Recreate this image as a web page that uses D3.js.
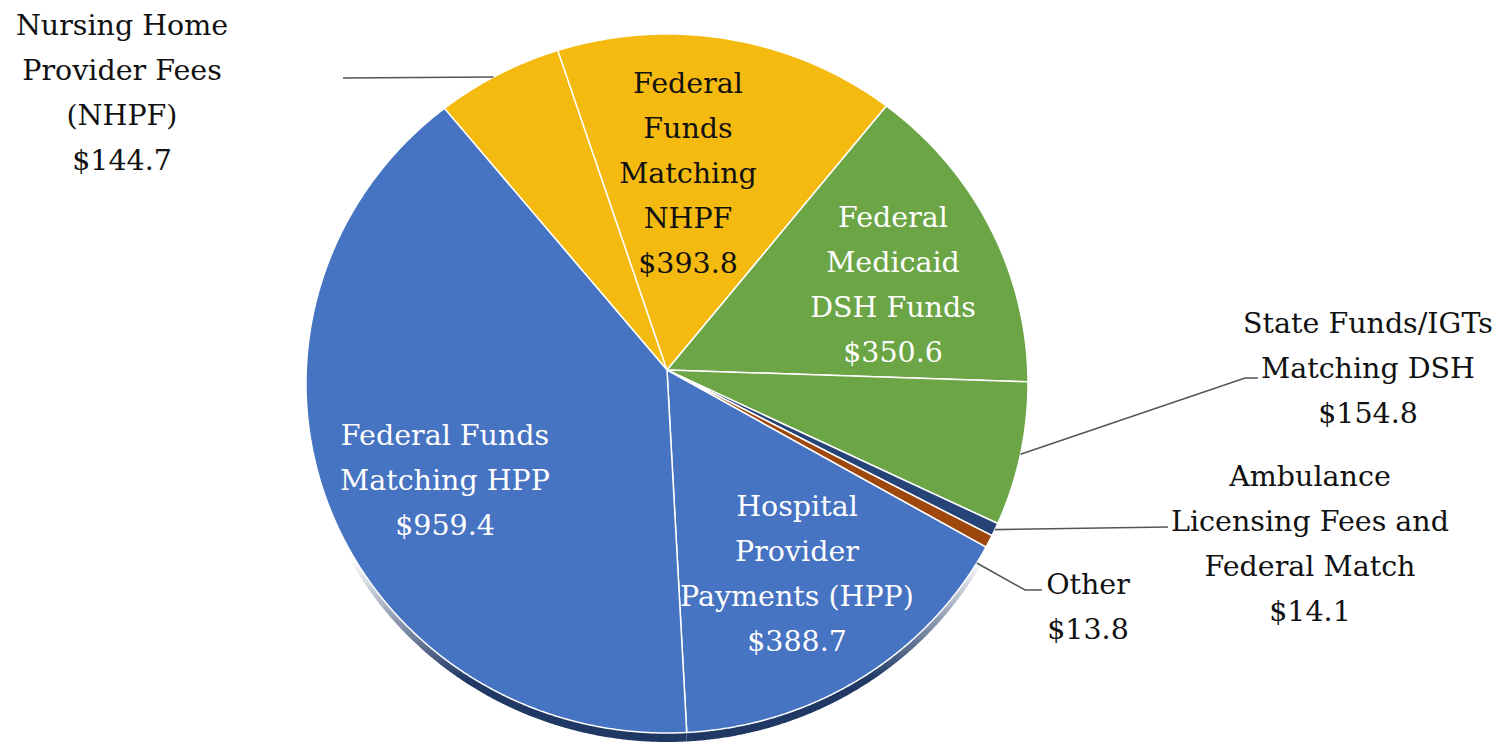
<!DOCTYPE html>
<html>
<head>
<meta charset="utf-8">
<script src="https://cdn.jsdelivr.net/npm/d3@7"></script>
<style>
  body { margin: 0; background: #fff; }
  text { font-family: "DejaVu Serif", serif; font-size: 28.5px; }
</style>
</head>
<body>
<div id="chart"></div>
<script>
var categories = [
  'Nursing Home Provider Fees (NHPF)',
  'Federal Funds Matching NHPF',
  'Federal Medicaid DSH Funds',
  'State Funds/IGTs Matching DSH',
  'Ambulance Licensing Fees and Federal Match',
  'Other',
  'Hospital Provider Payments (HPP)',
  'Federal Funds Matching HPP'
]
var values = [144.7, 393.8, 350.6, 154.8, 14.1, 13.8, 388.7, 959.4]
var labelLines = [
  ['Nursing Home', 'Provider Fees', '(NHPF)'],
  ['Federal', 'Funds', 'Matching', 'NHPF'],
  ['Federal', 'Medicaid', 'DSH Funds'],
  ['State Funds/IGTs', 'Matching DSH'],
  ['Ambulance', 'Licensing Fees and', 'Federal Match'],
  ['Other'],
  ['Hospital', 'Provider', 'Payments (HPP)'],
  ['Federal Funds', 'Matching HPP']
]

var width = 1511
var height = 745

// tilted pie: top face is an ellipse, slices meet slightly above its centre
var hub = { x: 667, y: 370 }
var ell = { x: 667, y: 383.5, rx: 361, ry: 349.5 }
var depth = 9

var colorScale = d3.scaleOrdinal()
  .domain(categories)
  .range(['#F5BA10', '#F5BA10', '#6BA545', '#6BA545', '#264478', '#9E480E', '#4673C2', '#4673C2'])
var wallScale = d3.scaleOrdinal()
  .domain(categories)
  .range(['#a67c08', '#a67c08', '#3f6a27', '#3f6a27', '#16284a', '#5e2a08', '#1F3864', '#1F3864'])
var textColor = d3.scaleOrdinal()
  .domain(categories)
  .range(['#111', '#111', '#fff', '#111', '#111', '#111', '#fff', '#fff'])

// where each label sits: centre x, first baseline
var labelLayout = [
  { x: 122, y: 35 },
  { x: 688, y: 93 },
  { x: 893, y: 227 },
  { x: 1368, y: 333 },
  { x: 1310, y: 486 },
  { x: 1088, y: 594 },
  { x: 797, y: 516 },
  { x: 445, y: 445 }
]
var lineHeight = 45

var svg = d3.select('#chart')
  .append('svg')
  .attr('width', width)
  .attr('height', height)

var data = categories.map(function(c, i) {
  return { name: c, value: values[i], lines: labelLines[i], layout: labelLayout[i] }
})

var pie = d3.pie()
  .sort(null)
  .value(d => d.value)
  .startAngle(-0.705)
  .endAngle(-0.705 + 2 * Math.PI)

var slices = pie(data)

// point on the ellipse rim along a ray from the hub
function rim(angle) {
  var dx = Math.sin(angle)
  var dy = -Math.cos(angle)
  var ox = hub.x - ell.x
  var oy = hub.y - ell.y
  var a = (dx * dx) / (ell.rx * ell.rx) + (dy * dy) / (ell.ry * ell.ry)
  var b = 2 * ((ox * dx) / (ell.rx * ell.rx) + (oy * dy) / (ell.ry * ell.ry))
  var c = (ox * ox) / (ell.rx * ell.rx) + (oy * oy) / (ell.ry * ell.ry) - 1
  var t = (-b + Math.sqrt(b * b - 4 * a * c)) / (2 * a)
  return [hub.x + t * dx, hub.y + t * dy]
}

function slicePath(d, shift) {
  var p = d3.path()
  p.moveTo(hub.x, hub.y + shift)
  var n = Math.max(2, Math.ceil((d.endAngle - d.startAngle) / 0.004))
  for (var i = 0; i <= n; i++) {
    var pt = rim(d.startAngle + (d.endAngle - d.startAngle) * i / n)
    p.lineTo(pt[0], pt[1] + shift)
  }
  p.closePath()
  return p.toString()
}

// only the front part of the side wall shows, fading in towards the bottom
var defs = svg.append('defs')
var grad = defs.append('linearGradient')
  .attr('id', 'wall-fade')
  .attr('gradientUnits', 'userSpaceOnUse')
  .attr('x1', 0).attr('y1', 560)
  .attr('x2', 0).attr('y2', 680)
grad.append('stop').attr('offset', 0).attr('stop-color', '#fff').attr('stop-opacity', 0)
grad.append('stop').attr('offset', 1).attr('stop-color', '#fff').attr('stop-opacity', 1)

defs.append('mask')
  .attr('id', 'wall-mask')
  .attr('maskUnits', 'userSpaceOnUse')
  .attr('x', 0).attr('y', 0)
  .attr('width', width).attr('height', height)
  .append('rect')
  .attr('width', width)
  .attr('height', height)
  .attr('fill', 'url(#wall-fade)')

svg.append('g')
  .attr('mask', 'url(#wall-mask)')
  .selectAll('path')
  .data(slices)
  .enter()
  .append('path')
  .attr('d', d => slicePath(d, depth))
  .attr('fill', d => wallScale(d.data.name))

svg.append('g')
  .selectAll('path')
  .data(slices)
  .enter()
  .append('path')
  .attr('d', d => slicePath(d, 0))
  .attr('fill', d => colorScale(d.data.name))
  .attr('stroke', '#fff')
  .attr('stroke-width', 1.5)
  .attr('stroke-linejoin', 'round')

// leader lines for the outside labels
var leaders = {
  0: function(d) {
    var y = 77
    var x = ell.x - ell.rx * Math.sqrt(1 - Math.pow((y - ell.y) / ell.ry, 2))
    return [[343, 78], [x, y]]
  },
  3: function(d) {
    return [rim((d.startAngle + d.endAngle) / 2), [1245, 378], [1258, 378]]
  },
  4: function(d) {
    return [rim((d.startAngle + d.endAngle) / 2), [1168, 527]]
  },
  5: function(d) {
    return [rim(d.endAngle + 0.05), [1025, 590], [1042, 590]]
  }
}

svg.append('g')
  .selectAll('path')
  .data(slices.filter((d, i) => leaders[i]))
  .enter()
  .append('path')
  .attr('d', d => d3.line()(leaders[d.index](d)))
  .attr('fill', 'none')
  .attr('stroke', '#555')
  .attr('stroke-width', 1.6)

var labels = svg.append('g')
  .selectAll('text')
  .data(slices)
  .enter()
  .append('text')
  .attr('text-anchor', 'middle')
  .attr('fill', d => textColor(d.data.name))

labels.each(function(d) {
  var t = d3.select(this)
  var lines = d.data.lines.concat(['$' + d3.format('.1f')(d.data.value)])
  lines.forEach(function(line, i) {
    t.append('tspan')
      .attr('x', d.data.layout.x)
      .attr('y', d.data.layout.y + i * lineHeight)
      .text(line)
  })
})
</script>
</body>
</html>
